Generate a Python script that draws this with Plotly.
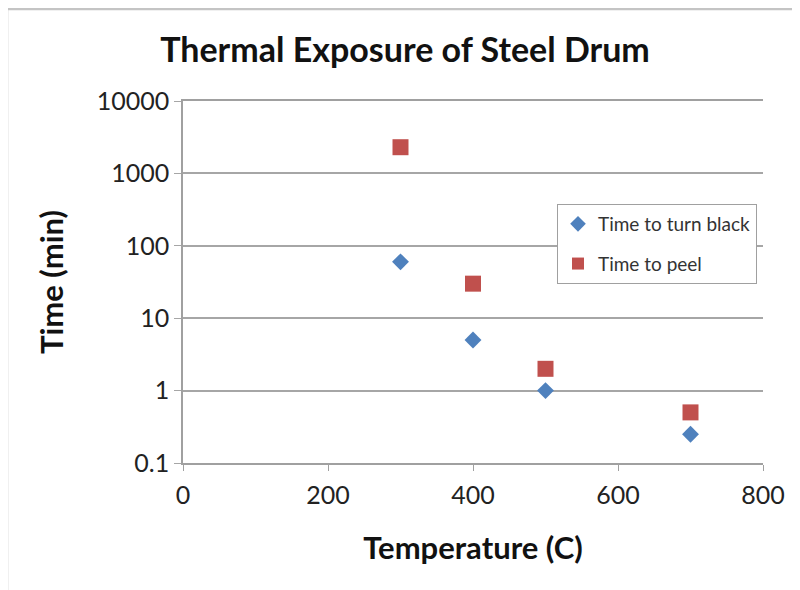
import plotly.graph_objects as go

temps = [300, 400, 500, 700]
time_black = [60, 5, 1, 0.25]
time_peel = [2300, 30, 2, 0.5]
y_tickvals = [0.1, 1, 10, 100, 1000, 10000]
y_ticktext = ["0.1", "1", "10", "100", "1000", "10000"]

FONT = "Lato"
OFF = 8  # page body margin

L, R, T, B = 183 - OFF, 763 - OFF, 101 - OFF, 463 - OFF
plot_w = R - L
plot_h = B - T


def px(x):
    return (x - OFF - L) / plot_w


def py(y):
    return (B - (y - OFF)) / plot_h


fig = go.Figure()
fig.add_trace(go.Scatter(
    x=temps, y=time_black, mode="markers", name="Time to turn black",
    legendgroup="a",
    marker=dict(symbol="diamond", size=13, color="#4f81bd",
                line=dict(width=0))))
fig.add_trace(go.Scatter(
    x=temps, y=time_peel, mode="markers", name="Time to peel",
    legendgroup="b",
    marker=dict(symbol="square", size=16, color="#c0504d",
                line=dict(width=0))))

fig.update_layout(
    width=800, height=590,
    paper_bgcolor="white", plot_bgcolor="white",
    margin=dict(l=L, r=800 - R, t=T, b=590 - B),
    font=dict(family=FONT, color="#222"),
    title=dict(text="<b>Thermal Exposure of Steel Drum</b>",
               x=(405 - OFF) / 800, xanchor="center",
               y=1 - (50 - OFF) / 590, yanchor="middle",
               font=dict(size=34, family=FONT, color="#111")),
    showlegend=True,
    legend=dict(x=px(557), xanchor="left", y=py(204), yanchor="top",
                bgcolor="white", bordercolor="#a0a0a0", borderwidth=1,
                font=dict(size=19, family=FONT, color="#333"),
                itemsizing="constant", tracegroupgap=12,
                itemwidth=30),
)

fig.update_xaxes(
    range=[0, 800], tickvals=[0, 200, 400, 600, 800],
    showgrid=False, showline=True, linecolor="#a0a0a0", linewidth=1.5,
    mirror=True,
    ticks="outside", ticklen=6, tickcolor="#a0a0a0",
    ticklabelstandoff=3,
    tickfont=dict(size=25, family=FONT, color="#222"),
    title=dict(text="<b>Temperature (C)</b>", font=dict(size=31, family=FONT, color="#111"),
               standoff=30),
    zeroline=False)
fig.update_yaxes(
    type="log", range=[-1, 4], tickvals=y_tickvals, ticktext=y_ticktext,
    showgrid=True, gridcolor="#a6a6a6", gridwidth=1.5,
    showline=True, linecolor="#a0a0a0", linewidth=1.5,
    ticks="outside", ticklen=7, tickcolor="#a6a6a6",
    tickfont=dict(size=25, family=FONT, color="#222"),
    title=dict(text="<b>Time (min)</b>", font=dict(size=31, family=FONT, color="#111"),
               standoff=24),
    zeroline=False)

# outer chart border
fig.add_shape(type="rect", xref="paper", yref="paper",
              x0=px(7), x1=px(815),
              y0=py(600), y1=py(9),
              line=dict(color="#c4c4c4", width=2.5), fillcolor="rgba(0,0,0,0)",
              layer="below")

fig.write_html("out.html")
